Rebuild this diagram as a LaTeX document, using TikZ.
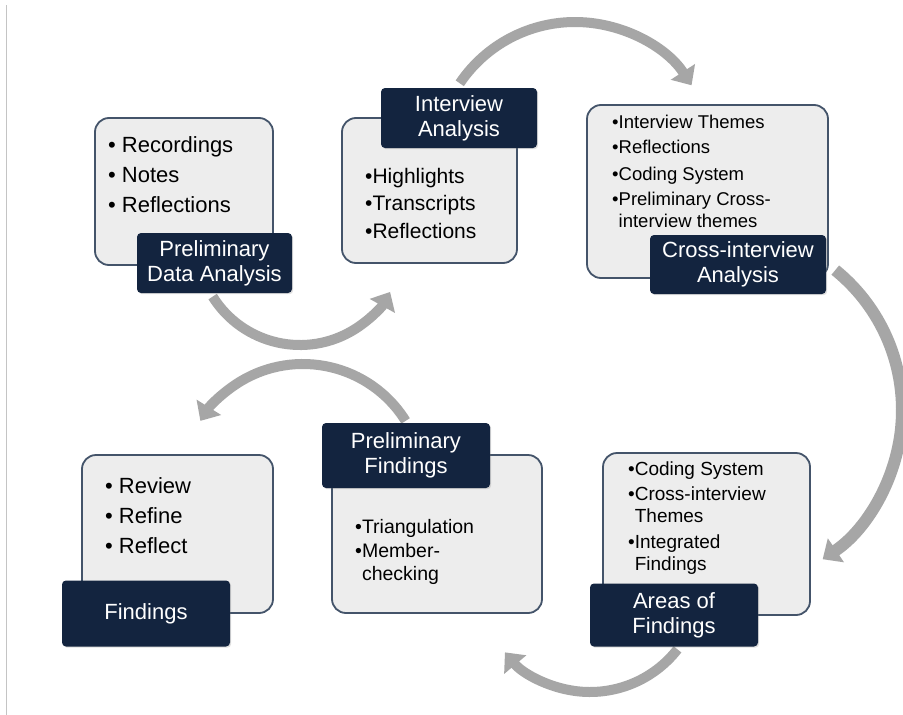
\documentclass[tikz,border=0pt]{standalone}
\usepackage{fontspec}
\setmainfont{Liberation Sans}
\usetikzlibrary{arrows.meta,calc,shadows}
\definecolor{navy}{HTML}{13243F}
\definecolor{cardfill}{HTML}{EDEDED}
\definecolor{cardline}{HTML}{44546A}
\definecolor{arrowgray}{HTML}{A6A6A6}
\definecolor{rulegray}{HTML}{C4C4C4}
\newcommand{\fs}[2]{\fontsize{#1}{#2}\selectfont}
\begin{document}
\begin{tikzpicture}[x=1pt,y=-1pt,
  card/.style={draw=cardline, fill=cardfill, line width=1.8pt, rounded corners=14pt, inner sep=0},
  tag/.style={fill=navy, rounded corners=4pt, text=white, align=center, font=\fs{22}{25}, inner sep=0,
              drop shadow={opacity=0.25, shadow xshift=1.2pt, shadow yshift=-1.2pt}},
  item/.style={anchor=base west, inner sep=0, text=black},
  cyc/.style={draw=arrowgray, line width=10pt, -{Triangle[length=16pt,width=28pt]}}]
\fill[white] (0,0) rectangle (903,715);
\useasboundingbox (0,0) rectangle (903,715);
% left rule
\coordinate (r1) at (6.5,5);
\coordinate (r2) at (6.5,715);
\draw[rulegray, line width=1.5pt] (r1) -- (r2);

% arc centres
\coordinate (k1) at (300,242);
\coordinate (k2) at (575,161);
\coordinate (k3) at (722,410);
\coordinate (k4) at (590,581);
\coordinate (k5) at (303,485);
\coordinate (a1) at ($(k1)+(148:103)$);
\coordinate (a2) at ($(k2)+(-146:139)$);
\coordinate (a3) at ($(k3)+(-51:180)$);
\coordinate (a4) at ($(k4)+(38:111)$);
\coordinate (a5) at ($(k5)+(-32:121)$);
\draw[cyc] (a1) arc[start angle=148, end angle=29, radius=103];
\draw[cyc] (a2) arc[start angle=-146, end angle=-33, radius=139];
\draw[cyc, line width=12pt] (a3) arc[start angle=-51, end angle=56, radius=180];
\draw[cyc] (a4) arc[start angle=38, end angle=140, radius=111];
\draw[cyc] (a5) arc[start angle=-32, end angle=-148, radius=121];

% cards
\node[card, minimum width=178, minimum height=147] (c1) at (184,191.5) {};
\node[card, minimum width=175, minimum height=145] (c2) at (429.5,190.5) {};
\node[card, minimum width=241, minimum height=173] (c3) at (707.5,191.5) {};
\node[card, minimum width=207, minimum height=162] (c4) at (706.5,534) {};
\node[card, minimum width=210, minimum height=158] (c5) at (437,534) {};
\node[card, minimum width=191, minimum height=158] (c6) at (177.5,534) {};

% card texts
\node[item, font=\fs{22}{26}] (c1a) at (108,152) {• Recordings};
\node[item, font=\fs{22}{26}] (c1b) at (108,182) {• Notes};
\node[item, font=\fs{22}{26}] (c1c) at (108,212) {• Reflections};

\node[item, font=\fs{21}{25}] (c2a) at (365,183) {•Highlights};
\node[item, font=\fs{21}{25}] (c2b) at (365,210) {•Transcripts};
\node[item, font=\fs{21}{25}] (c2c) at (365,238) {•Reflections};

\node[item, font=\fs{18.5}{22}] (c3a) at (612,128) {•Interview Themes};
\node[item, font=\fs{18.5}{22}] (c3b) at (612,153) {•Reflections};
\node[item, font=\fs{18.5}{22}] (c3c) at (612,180) {•Coding System};
\node[item, font=\fs{18.5}{22}] (c3d) at (612,205) {•Preliminary Cross-};
\node[item, font=\fs{18.5}{22}] (c3e) at (612,227) {\phantom{•}interview themes};

\node[item, font=\fs{19}{22}] (c4a) at (628,475) {•Coding System};
\node[item, font=\fs{19}{22}] (c4b) at (628,500) {•Cross-interview};
\node[item, font=\fs{19}{22}] (c4c) at (628,522) {\phantom{•}Themes};
\node[item, font=\fs{19}{22}] (c4d) at (628,548) {•Integrated};
\node[item, font=\fs{19}{22}] (c4e) at (628,570) {\phantom{•}Findings};

\node[item, font=\fs{19.5}{23}] (c5a) at (355,533) {•Triangulation};
\node[item, font=\fs{19.5}{23}] (c5b) at (355,557) {•Member-};
\node[item, font=\fs{19.5}{23}] (c5c) at (355,580) {\phantom{•}checking};

\node[item, font=\fs{22}{26}] (c6a) at (105,493) {• Review};
\node[item, font=\fs{22}{26}] (c6b) at (105,523) {• Refine};
\node[item, font=\fs{22}{26}] (c6c) at (105,553) {• Reflect};

% labels
\node[tag, minimum width=155, minimum height=60] (t1) at (214.5,263) {Preliminary\\Data Analysis};
\node[tag, minimum width=156, minimum height=60] (t2) at (459,118) {Interview\\Analysis};
\node[tag, minimum width=176, minimum height=59] (t3) at (738,264.5) {Cross-interview\\Analysis};
\node[tag, minimum width=168, minimum height=63] (t4) at (674,615) {Areas of\\Findings};
\node[tag, minimum width=168, minimum height=65] (t5) at (406,455.5) {Preliminary\\Findings};
\node[tag, minimum width=168, minimum height=66] (t6) at (146,613.5) {Findings};
\end{tikzpicture}
\end{document}
